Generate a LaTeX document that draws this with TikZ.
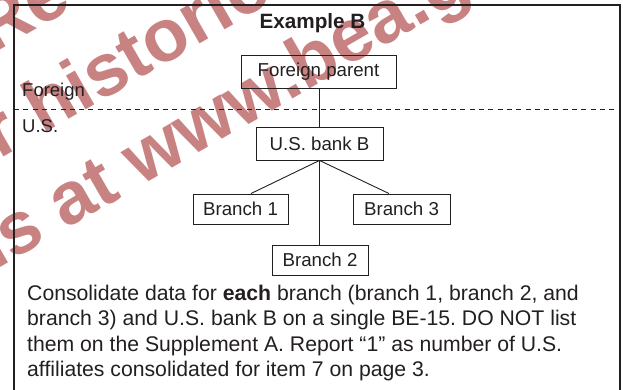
\documentclass[tikz,border=0pt]{standalone}
\usepackage{fontspec}
\setmainfont{Liberation Sans}
\frenchspacing
\definecolor{ink}{RGB}{35,31,32}
\definecolor{wm}{RGB}{200,130,130}
\begin{document}
\begin{tikzpicture}[x=1pt,y=-1pt,
  box/.style={draw=ink, line width=0.9pt, inner sep=0pt, text=ink, font=\fontsize{18.7}{22}\selectfont},
  lbl/.style={text=ink, inner sep=0pt, anchor=base west, font=\fontsize{18.5}{22}\selectfont},
  wmark/.style={text=wm, inner sep=0pt, anchor=base west, rotate=30, font=\bfseries\fontsize{74}{80}\selectfont},
  link/.style={draw=ink, line width=0.9pt}]
\useasboundingbox (0,0) rectangle (623,390);
\clip (0,0) rectangle (623,390);
% watermark
\node[wmark] (wm1) at (-8,55) {Re};
\node[wmark] (wm2) at (-61,194.6) {for historical};
\node[wmark] (wm3) at (-130,343) {forms at www.bea.gov};
% frame
\draw[ink, line width=2.4pt, line join=miter] (14,400) -- (14,5) -- (620,5) -- (620,400);
% title
\node[text=ink, inner sep=0pt, anchor=base, font=\bfseries\fontsize{20.7}{24}\selectfont] (title) at (312.5,28.5) {Example B};
% boundary
\coordinate (dl) at (14,109);
\coordinate (dr) at (620,109);
\draw[ink, line width=0.9pt, dash pattern=on 5pt off 4.3pt] (dl) -- (dr);
\node[lbl] (foreign) at (22,96.7) {Foreign};
\node[lbl] (us) at (22,132.3) {U.S.};
% nodes
\node[box, minimum width=155pt, minimum height=33pt] (parent) at (318.5,71.5) {Foreign parent};
\node[box, minimum width=127pt, minimum height=33pt] (bank) at (319.5,143.5) {U.S. bank B};
\node[box, minimum width=95pt, minimum height=30pt] (b1) at (240.5,209) {Branch 1};
\node[box, minimum width=97pt, minimum height=30pt] (b3) at (401.5,209) {Branch 3};
\node[box, minimum width=96pt, minimum height=30pt] (b2) at (320,260) {Branch 2};
% connectors
\draw[link] (bank.north |- parent.south) -- (bank.north);
\draw[link] (bank.south) -- (bank.south |- b2.north);
\draw[link] (bank.south) -- ([xshift=10.5pt]b1.north);
\draw[link] (bank.south) -- ([xshift=-12.5pt]b3.north);
% note
\node[text=ink, inner sep=0pt, anchor=north west, align=left, font=\fontsize{21.2}{25.3}\selectfont] (note) at (27,285)
{Consolidate data for \textbf{each} branch (branch 1, branch 2, and\\
branch 3) and U.S. bank B on a single BE-15. DO NOT list\\
them on the Supplement A. Report “1” as number of U.S.\\
affiliates consolidated for item 7 on page 3.};
\end{tikzpicture}
\end{document}
